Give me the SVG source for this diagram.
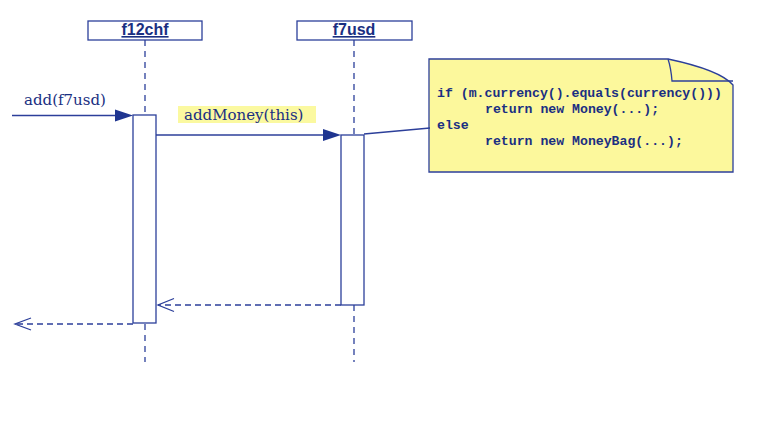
<svg xmlns="http://www.w3.org/2000/svg" width="779" height="421" viewBox="0 0 779 421">
<style>
.ln{stroke:#2c3f9a;stroke-width:1.3;fill:none}
.dash{stroke:#2c3f9a;stroke-width:1.3;fill:none;stroke-dasharray:6 4}
.life{stroke:#2c3f9a;stroke-width:1.3;fill:none;stroke-dasharray:6 5}
.box{fill:#ffffff;stroke:#2c3f9a;stroke-width:1.3}
.hdr{font-family:"Liberation Sans",Arial,sans-serif;font-weight:bold;font-size:16px;fill:#1a2f82;text-decoration:underline;text-anchor:middle}
.msg{font-family:"DejaVu Serif",serif;font-size:15px;fill:#1a2f82}
.code{font-family:"Liberation Mono","Courier New",monospace;font-weight:bold;font-size:13.2px;fill:#1a2f82}
.head{fill:#1f3590;stroke:none}
</style>
<rect width="779" height="421" fill="#ffffff"/>
<g id="f12chf">
<rect class="box" x="88" y="21" width="114" height="19"/>
<text class="hdr" x="145" y="35">f12chf</text>
<line class="life" x1="145" y1="40" x2="145" y2="115"/>
<line class="life" x1="145" y1="324" x2="145" y2="362"/>
<rect class="box" x="133" y="115" width="23" height="208"/>
</g>
<g id="f7usd">
<rect class="box" x="297" y="21" width="115" height="19"/>
<text class="hdr" x="354" y="35">f7usd</text>
<line class="life" x1="354" y1="40" x2="354" y2="135"/>
<line class="life" x1="354" y1="305" x2="354" y2="362"/>
<rect class="box" x="341" y="135" width="23" height="170"/>
</g>
<g id="note">
<path d="M429,59 H668 Q720,70 733,85 V172 H429 Z" fill="#fcf89c" stroke="#2c3f9a" stroke-width="1.3"/>
<path d="M668,59 Q671,68 672,81 H733" fill="none" stroke="#2c3f9a" stroke-width="1.3"/>
<text class="code" x="437" y="97">if (m.currency().equals(currency()))</text>
<text class="code" x="485" y="113">return new Money(...);</text>
<text class="code" x="437" y="129">else</text>
<text class="code" x="485" y="145">return new MoneyBag(...);</text>
</g>
<g id="connectors">
<line class="ln" x1="12" y1="115.5" x2="118" y2="115.5"/>
<polygon class="head" points="133,115.5 115,109.5 115,121.5"/>
<text class="msg" x="24" y="105">add(f7usd)</text>
<rect x="178" y="106" width="138" height="17" fill="#fbf9a0"/>
<text class="msg" x="184" y="120">addMoney(this)</text>
<line class="ln" x1="156" y1="135" x2="326" y2="135"/>
<polygon class="head" points="341,135 323,129 323,141"/>
<line class="ln" x1="364" y1="134" x2="430" y2="128"/>
<line class="dash" x1="341" y1="305" x2="158" y2="305"/>
<polyline class="ln" points="174,298.5 158,305 174,311.5"/>
<line class="dash" x1="133" y1="324" x2="15" y2="324"/>
<polyline class="ln" points="31,318 15,324 31,330"/>
</g>
</svg>
